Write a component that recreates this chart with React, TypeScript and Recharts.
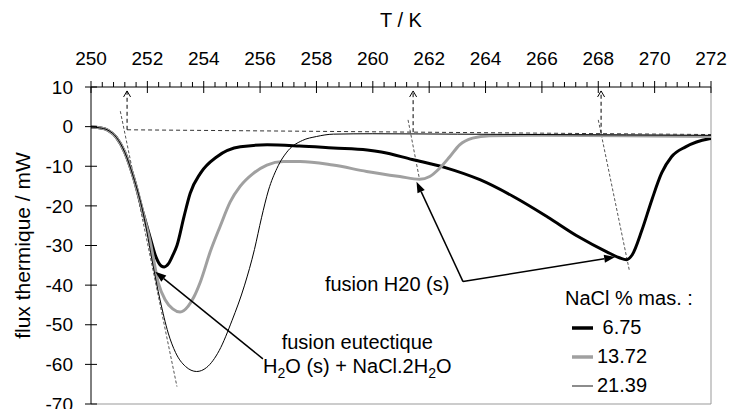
import React from "react";
import { LineChart, Line, XAxis, YAxis, ReferenceLine, ReferenceDot, Legend } from "recharts";

const FONT = '"Liberation Sans", Arial, sans-serif';

// axes
const majorTicks = [250, 252, 254, 256, 258, 260, 262, 264, 266, 268, 270, 272];
const fluxTicks = [-70, -60, -50, -40, -30, -20, -10, 0, 10];
const tTicks = majorTicks
  .flatMap((t) => [0, 0.4, 0.8, 1.2, 1.6].map((d) => Math.round((t + d) * 10) / 10))
  .filter((v) => v <= 272);

// 6.75 % NaCl
const t675 = [250, 250.3, 250.6, 250.9, 251.2, 251.5, 251.85, 252.1, 252.3, 252.5, 252.6, 252.75, 252.9, 253.05, 253.3, 253.52, 253.88, 254.47, 255.3, 256.25, 257.4, 258.6, 259.8, 260.3, 261.4, 262.6, 263.8, 265, 266.2, 267.3, 268.3, 268.75, 269.0, 269.2, 269.55, 269.9, 270.25, 270.6, 271.1, 271.9, 272];
const f675 = [-0.1, -0.3, -0.9, -2.7, -6.5, -12.6, -21.8, -28, -32.8, -35.2, -35.4, -34.6, -32.5, -30, -22.7, -16.8, -11.8, -7.6, -5.1, -4.6, -4.9, -5.4, -5.9, -6.4, -8.3, -10.4, -13.4, -17.7, -22.8, -27.8, -31.6, -33.1, -33.6, -32.4, -26.1, -18.5, -11.7, -7.6, -5.1, -3.1, -3.0];

// 13.72 % NaCl
const t1372 = [250, 250.3, 250.6, 250.9, 251.2, 251.5, 251.85, 252.1, 252.39, 252.63, 252.9, 253.16, 253.45, 253.65, 253.88, 254.23, 254.58, 254.94, 255.29, 255.76, 256.24, 256.82, 257.42, 258.58, 259.78, 260.96, 261.66, 262.02, 262.37, 262.73, 263.08, 263.54, 264.14, 266, 269, 272];
const f1372 = [-0.1, -0.3, -0.9, -2.7, -6.5, -12.6, -21.8, -29, -39.5, -43.7, -46, -46.8, -45.3, -43, -39.2, -31.6, -25.2, -19, -15.1, -11.8, -9.7, -8.8, -8.8, -9.7, -11.3, -12.6, -13.3, -12.6, -10.5, -7.6, -4.6, -2.9, -2.3, -2.2, -2.3, -2.5];

// 21.39 % NaCl
const t2139 = [250, 250.3, 250.6, 250.9, 251.2, 251.5, 251.85, 252.2, 252.45, 252.74, 253.0, 253.35, 253.75, 254.1, 254.55, 255.0, 255.45, 255.8, 256.05, 256.3, 256.6, 257.0, 257.5, 258.0, 258.6, 260, 263, 266, 269, 272];
const f2139 = [-0.1, -0.3, -0.9, -2.7, -6.5, -12.6, -21.8, -35, -43.7, -52.1, -57, -60.5, -61.8, -60.8, -56.5, -49, -40, -31, -23, -16, -10.5, -6, -3.5, -2.5, -1.9, -1.8, -1.9, -2.0, -2.1, -2.2];

// construction lines (T, flux)
const baseline = [{ T: 251.28, f: -0.8 }, { T: 272, f: -2.0 }];
const onsets = [
  { T: 251.28, from: -0.8, to: 9 },
  { T: 261.43, from: -1.4, to: 9 },
  { T: 268.1, from: -1.8, to: 9 },
];
const tangents = [
  [{ T: 251.04, f: 3.9 }, { T: 253.05, f: -65.6 }],
  [{ T: 261.25, f: 1.7 }, { T: 261.66, f: -13.4 }],
  [{ T: 268.0, f: 1.7 }, { T: 269.1, f: -36.2 }],
];
const pointers = [
  [{ T: 256.1, f: -58.6 }, { T: 252.28, f: -36.6 }],
  [{ T: 263.2, f: -39.1 }, { T: 261.55, f: -13.9 }],
  [{ T: 263.2, f: -39.1 }, { T: 268.6, f: -32.9 }],
];
const notes = [
  { T: 260.51, f: -41.6, text: "fusion H20 (s)" },
  { T: 259.45, f: -56.1, text: "fusion eutectique" },
  { T: 259.45, f: -62.2, text: "H_2O (s) + NaCl.2H_2O" },
];

const zip = (ts: number[], fs: number[]) => ts.map((T, i) => ({ T, f: fs[i] }));

const series = [
  { name: " 6.75", data: zip(t675, f675), stroke: "#000", width: 3, legendStroke: "#000", legendWidth: 3.5 },
  { name: "13.72", data: zip(t1372, f1372), stroke: "#a0a0a0", width: 3, legendStroke: "#a0a0a0", legendWidth: 3.5 },
  { name: "21.39", data: zip(t2139, f2139), stroke: "#000", width: 1, legendStroke: "#666", legendWidth: 1.5 },
];

const isMajor = (v: number) => Number.isInteger(v) && v % 2 === 0;

function TopTick(props: any) {
  const { x, y, payload } = props;
  const axisY = y + 22;
  if (!isMajor(payload.value)) {
    return <line x1={x} x2={x} y1={axisY - 5} y2={axisY} stroke="#000" />;
  }
  return (
    <g>
      <line x1={x} x2={x} y1={axisY - 6} y2={axisY + 6} stroke="#000" />
      <text x={x} y={y} textAnchor="middle" fontSize={19} fill="#000">
        {payload.value}
      </text>
    </g>
  );
}

function LeftTick(props: any) {
  const { x, y, payload } = props;
  const axisX = x + 18;
  return (
    <g>
      <line x1={axisX - 6} x2={axisX + 6} y1={y} y2={y} stroke="#000" />
      <text x={x} y={y} dy="0.35em" textAnchor="end" fontSize={19} fill="#000">
        {payload.value}
      </text>
    </g>
  );
}

function head(x1: number, y1: number, x2: number, y2: number, len: number, half: number) {
  const a = Math.atan2(y2 - y1, x2 - x1);
  const bx = x2 - len * Math.cos(a);
  const by = y2 - len * Math.sin(a);
  const nx = -Math.sin(a) * half;
  const ny = Math.cos(a) * half;
  return { bx, by, l: `${bx + nx},${by + ny}`, r: `${bx - nx},${by - ny}` };
}

const solidArrow = (p: any) => {
  const { x1, y1, x2, y2 } = p;
  const h = head(x1, y1, x2, y2, 11, 4);
  return (
    <g>
      <line x1={x1} y1={y1} x2={h.bx} y2={h.by} stroke="#000" strokeWidth={1.5} />
      <polygon points={`${x2},${y2} ${h.l} ${h.r}`} fill="#000" />
    </g>
  );
};

const dashedArrow = (p: any) => {
  const { x1, y1, x2, y2 } = p;
  const h = head(x1, y1, x2, y2, 6, 3.5);
  return (
    <g>
      <line x1={x1} y1={y1} x2={x2} y2={y2} stroke="#000" strokeDasharray="4 3" />
      <polyline points={`${h.l} ${x2},${y2} ${h.r}`} fill="none" stroke="#000" />
    </g>
  );
};

function rich(s: string) {
  const parts = s.split(/_(\d)/);
  const out: React.ReactNode[] = [];
  let low = false;
  parts.forEach((part, i) => {
    if (i % 2 === 1) {
      out.push(
        <tspan key={i} dy={5} fontSize={14}>
          {part}
        </tspan>
      );
      low = true;
    } else if (part) {
      out.push(
        <tspan key={i} dy={low ? -5 : 0}>
          {part}
        </tspan>
      );
      low = false;
    }
  });
  return out;
}

const noteShape = (text: string) => (p: any) => (
  <text x={p.cx} y={p.cy} textAnchor="middle" fontSize={20} fill="#000">
    {rich(text)}
  </text>
);

const legendContent = () => (
  <div style={{ fontFamily: FONT, fontSize: 20, color: "#000" }}>
    <div style={{ height: 24, lineHeight: "24px", marginBottom: 3, whiteSpace: "nowrap" }}>NaCl % mas. :</div>
    {series.map((s) => (
      <div key={s.name} style={{ display: "flex", alignItems: "center", height: 29 }}>
        <svg width={21} height={8} style={{ marginLeft: 7, marginRight: 4 }}>
          <line x1={0} x2={21} y1={4} y2={4} stroke={s.legendStroke} strokeWidth={s.legendWidth} />
        </svg>
        <span style={{ lineHeight: "29px", whiteSpace: "pre" }}>{s.name}</span>
      </div>
    ))}
  </div>
);

export default function App() {
  return (
    <div style={{ position: "absolute", left: 0, top: 0, fontFamily: FONT }}>
      <LineChart width={736} height={409} margin={{ top: 0, right: 25, bottom: 5, left: 0 }}>
        <XAxis
          orientation="top"
          type="number"
          dataKey="T"
          domain={[250, 272]}
          ticks={tTicks}
          interval={0}
          height={87}
          tickSize={0}
          tickMargin={22}
          tickLine={false}
          axisLine={{ stroke: "#000" }}
          tick={<TopTick />}
          allowDataOverflow
          label={{ value: "T / K", position: "insideTop", offset: 13, fill: "#000", style: { fontSize: 20 } }}
        />
        <YAxis
          type="number"
          domain={[-70, 10]}
          ticks={fluxTicks}
          interval={0}
          width={91}
          tickSize={0}
          tickMargin={18}
          tickLine={false}
          axisLine={{ stroke: "#000" }}
          tick={<LeftTick />}
          allowDataOverflow
          label={{
            value: "flux thermique / mW",
            angle: -90,
            position: "insideLeft",
            offset: 23,
            fill: "#000",
            style: { textAnchor: "middle", fontSize: 21 },
          }}
        />
        <ReferenceLine x={272} stroke="#999" ifOverflow="visible" />
        <ReferenceLine y={-70} stroke="#999" ifOverflow="visible" />

        <ReferenceLine
          segment={[
            { x: baseline[0].T, y: baseline[0].f },
            { x: baseline[1].T, y: baseline[1].f },
          ]}
          stroke="#333"
          strokeDasharray="4 3"
          ifOverflow="visible"
        />
        {tangents.map((s, i) => (
          <ReferenceLine
            key={"tg" + i}
            segment={[
              { x: s[0].T, y: s[0].f },
              { x: s[1].T, y: s[1].f },
            ]}
            stroke="#555"
            strokeDasharray="3 2"
            ifOverflow="visible"
          />
        ))}
        {onsets.map((o, i) => (
          <ReferenceLine
            key={"on" + i}
            segment={[
              { x: o.T, y: o.from },
              { x: o.T, y: o.to },
            ]}
            shape={dashedArrow}
            ifOverflow="visible"
          />
        ))}

        {series.map((s) => (
          <Line
            key={s.name}
            name={s.name}
            data={s.data}
            dataKey="f"
            type="monotone"
            stroke={s.stroke}
            strokeWidth={s.width}
            dot={false}
            activeDot={false}
            isAnimationActive={false}
          />
        ))}

        {pointers.map((s, i) => (
          <ReferenceLine
            key={"pt" + i}
            segment={[
              { x: s[0].T, y: s[0].f },
              { x: s[1].T, y: s[1].f },
            ]}
            shape={solidArrow}
            ifOverflow="visible"
          />
        ))}
        {notes.map((n, i) => (
          <ReferenceDot key={"n" + i} x={n.T} y={n.f} r={0} shape={noteShape(n.text)} ifOverflow="visible" />
        ))}

        <Legend
          layout="vertical"
          align="center"
          verticalAlign="middle"
          content={legendContent}
          wrapperStyle={{ left: 565, top: 286, width: 170 }}
        />
      </LineChart>
    </div>
  );
}
